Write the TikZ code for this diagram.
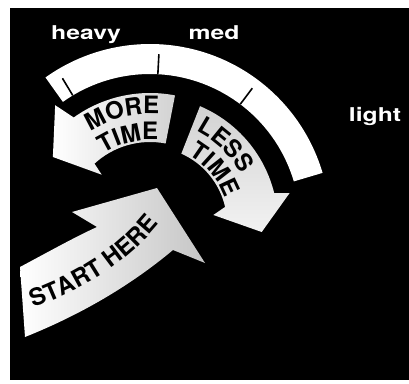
\documentclass[tikz,border=0pt]{standalone}
\usepackage{fontspec}
\usepackage{graphicx}
\usetikzlibrary{decorations.text}
\newfontfamily\dialfont{TeX Gyre Heros}
\newcommand{\dialsize}{\fontsize{19}{19}\selectfont}
\newcommand{\arrowsize}{\fontsize{24}{24}\selectfont}
\newcommand{\dialword}[1]{\scalebox{1.3}[1]{#1}}

\begin{document}
\begin{tikzpicture}[
  x=1pt, y=1pt,
  dial label/.style={text=white, font=\dialfont\bfseries\dialsize, anchor=base, inner sep=0pt},
  tickmark/.style={black, line width=1.6pt},
  arrowtext/.style={decorate, decoration={text along path, text align=center,
    text={|\dialfont\bfseries\arrowsize\color{black}|#1}}}
]
\useasboundingbox (0,0) rectangle (409,383);
\fill[black] (10,3) rectangle (409,375);
\coordinate (c) at (150,159);

% dial band
\fill[white] ([shift={(c)}]16.5:180) arc[start angle=16.5, end angle=125.5, radius=180]
  -- ([shift={(c)}]125.5:150) arc[start angle=125.5, end angle=16.5, radius=150] -- cycle;
\foreach \a in {121,87,53}
  \draw[tickmark] ([shift={(c)}]\a:150) -- ([shift={(c)}]\a:170);

\node[dial label] (heavy) at (86,343) {\dialword{heavy}};
\node[dial label] (med) at (214,343) {\dialword{med}};
\node[dial label] (light) at (375,261) {\dialword{light}};

% more time
\shade[left color=white, right color=gray!35]
  ([shift={(c)}]79:131) arc[start angle=79, end angle=125.6, radius=131]
  -- ([shift={(c)}]128.6:152) -- ([shift={(c)}]145.4:118) -- ([shift={(c)}]134.4:69)
  -- ([shift={(c)}]132.6:82) arc[start angle=132.6, end angle=79, radius=82] -- cycle;
\path[arrowtext=MORE] ([shift={(c)}]130:110) arc[start angle=130, end angle=78, radius=110];
\path[arrowtext=TIME] ([shift={(c)}]130:84) arc[start angle=130, end angle=78, radius=84];

% less time
\shade[top color=gray!35, bottom color=gray!10]
  ([shift={(c)}]67:128) arc[start angle=67, end angle=13.9, radius=128]
  -- ([shift={(c)}]12.5:143) -- ([shift={(c)}]-4.1:112) -- ([shift={(c)}]8.1:64)
  -- ([shift={(c)}]12.8:77) arc[start angle=12.8, end angle=66, radius=77] -- cycle;
\path[arrowtext=LESS] ([shift={(c)}]68:104) arc[start angle=68, end angle=24, radius=104];
\path[arrowtext=TIME] ([shift={(c)}]68:79) arc[start angle=68, end angle=12, radius=79];

% start here
\shade[left color=white, right color=gray!45]
  (20,116) .. controls (50,132) and (75,146) .. (97,156) -- (72,171) -- (157,195)
  -- (205,120) -- (173,133) .. controls (130,97) and (80,68) .. (25,46) -- cycle;
\path[arrowtext=START HERE] (24,72) .. controls (70,88) and (125,113) .. (165,167);
\end{tikzpicture}
\end{document}
